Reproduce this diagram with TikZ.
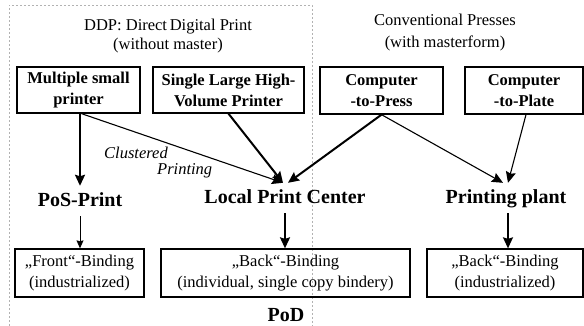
\documentclass[tikz,border=0pt]{standalone}
\usepackage{fontspec}
\setmainfont{Liberation Serif}
\usetikzlibrary{arrows.meta}

\tikzset{
  printer/.style={draw,line width=1.3pt,align=center,inner sep=0pt,
    font=\fontsize{16.5}{21}\selectfont\bfseries},
  binding/.style={draw,line width=1.3pt,align=center,inner sep=0pt,minimum height=48pt,
    font=\fontsize{16.5}{21}\selectfont},
  stage/.style={anchor=base,inner sep=7pt,text height=14pt,text depth=2pt,
    font=\fontsize{20}{24}\selectfont\bfseries},
  heavy/.style={line width=2pt,-{Stealth[length=11pt,width=10pt,inset=1.5pt]}},
  light/.style={line width=1.1pt,-{Stealth[length=11pt,width=10pt,inset=1.5pt]}},
}

\begin{document}
\begin{tikzpicture}[x=1pt,y=-1pt]
\useasboundingbox (0,0) rectangle (584,326);
% DDP area
\draw[gray!60,line width=0.5pt,dash pattern=on 2pt off 2pt] (9,326) -- (9,5) -- (312,5) -- (312,326);

\node[align=center,font=\fontsize{16.5}{19}\selectfont] (ddp) at (168,36.5) {DDP: Direct\,Digital Print\\(without master)};
\node[align=center,font=\fontsize{16.5}{22}\selectfont] (conv) at (445,33) {Conventional Presses\\(with masterform)};

% printers
\node[printer,minimum width=123pt,minimum height=46pt] (msp) at (78.5,90) {Multiple small\\printer};
\node[printer,minimum width=151pt,minimum height=46pt] (slp) at (228.5,90) {Single Large High-\\Volume Printer};
\node[printer,minimum width=123pt,minimum height=47pt] (ctpress) at (381.5,90.5) {Computer\\-to-Press};
\node[printer,minimum width=118pt,minimum height=47pt] (ctplate) at (524,90.5) {Computer\\-to-Plate};

% where it is printed
\node[stage] (pos) at (80,207) {PoS-Print};
\node[stage] (lpc) at (285,204) {Local Print Center};
\node[stage] (plant) at (506,204) {Printing plant};

% binding
\node[binding,minimum width=129pt] (front) at (79.5,273) {„Front“-Binding\\(industrialized)};
\node[binding,minimum width=249pt] (backind) at (285.5,273) {„Back“-Binding\\(individual, single copy bindery)};
\node[binding,minimum width=156pt] (backindus) at (505,273) {„Back“-Binding\\(industrialized)};

\node[font=\fontsize{20}{24}\selectfont\bfseries] (pod) at (286,315) {PoD};
\node[anchor=west,inner sep=0pt,align=left,font=\fontsize{16.5}{16}\selectfont\itshape] (cp) at (104,163) {Clustered\\\hspace*{53pt}Printing};

% arrows
\draw[heavy] (msp.south -| pos) -- (pos.north);
\draw[light] ([xshift=3pt]msp.south) -- ([xshift=-2pt]lpc.north);
\draw[heavy] (slp.south) -- ([xshift=-2pt]lpc.north);
\draw[heavy] (ctpress.south) -- ([xshift=3pt]lpc.north);
\draw[light] (ctpress.south) -- ([xshift=-3pt]plant.north);
\draw[light] ([xshift=2pt]ctplate.south) -- ([xshift=2pt]plant.north);

\draw[line width=0.9pt,-{Stealth[length=8pt,width=7pt,inset=1pt]}] (pos.south) -- (pos.south |- front.north);
\draw[heavy] (lpc.south) -- (lpc.south |- backind.north);
\draw[line width=1.5pt,-{Stealth[length=11pt,width=10pt,inset=1.5pt]}] ([xshift=2pt]plant.south) -- ([xshift=2pt]plant.south |- backindus.north);
\end{tikzpicture}
\end{document}
